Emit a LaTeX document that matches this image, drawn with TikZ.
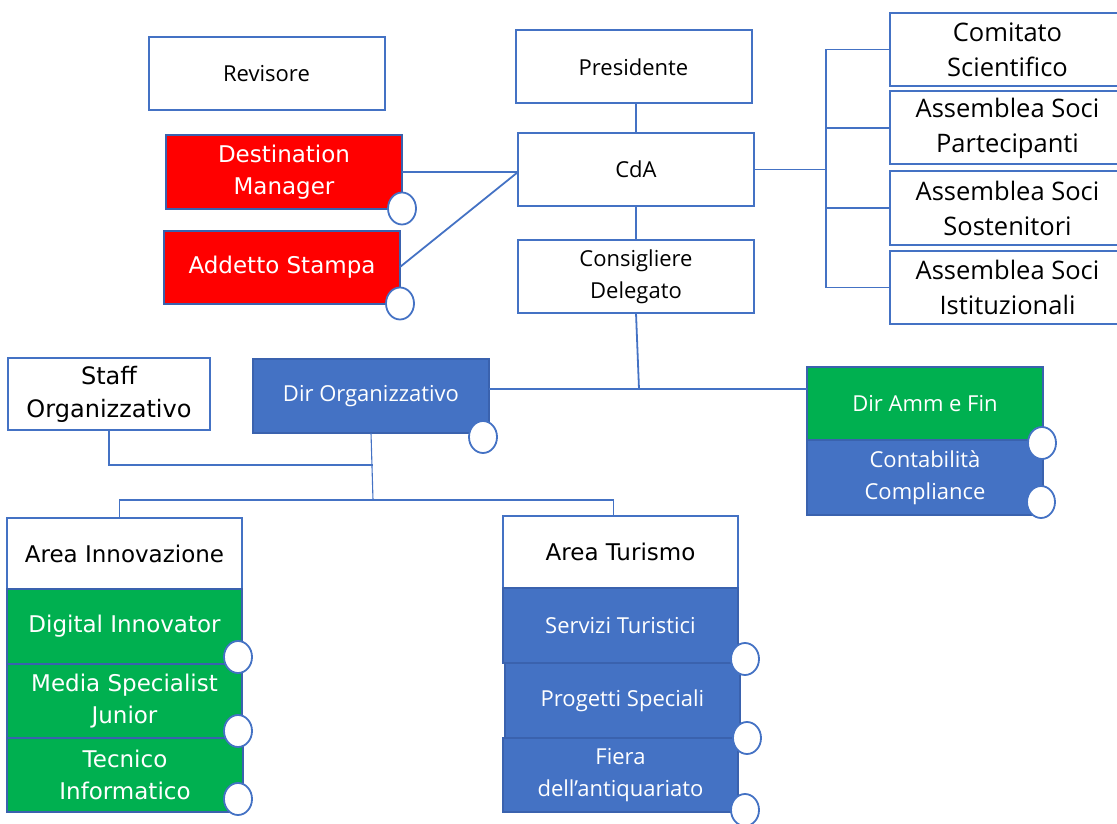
\documentclass[tikz,border=0pt]{standalone}
\usepackage{fontspec}
\setmainfont{Open Sans}
\newfontfamily\verdfont{DejaVu Sans}
\usepackage{xcolor}
\definecolor{oblue}{HTML}{4472C4}
\definecolor{ogreen}{HTML}{00B050}
\definecolor{ored}{HTML}{FF0000}
\definecolor{oedge}{HTML}{3A62AE}

\tikzset{
  orgbox/.style={draw=oblue, line width=2pt, fill=white, minimum width=236pt, minimum height=73pt,
    align=center, inner sep=2pt, outer sep=0pt, font=\fontsize{22}{32}\selectfont},
  verd/.style={font=\verdfont\fontsize{23}{32}\selectfont},
  redbox/.style={orgbox, verd, draw=oedge, fill=ored, text=white},
  greenbox/.style={orgbox, draw=oedge, fill=ogreen, text=white},
  bluebox/.style={orgbox, draw=oedge, fill=oblue, text=white},
  tondo/.style={draw=oblue, line width=1.8pt, fill=white},
  conn/.style={draw=oblue, line width=1.8pt},
  thinconn/.style={draw=oblue, line width=1.1pt}
}

\begin{document}
\begin{tikzpicture}[x=1pt, y=-1pt]
		\useasboundingbox (0,0) rectangle (1117,824);
		% vertice
		\node[orgbox] (rev)  at (266.5,73.5) {Revisore};
		\node[orgbox] (pres) at (633.5,67)   {Presidente};
		\node[orgbox] (cda)  at (636,169.5)  {CdA};
		\node[orgbox] (cons) at (636,276.5)  {Consigliere\\Delegato};
		\node[redbox] (dm)   at (284,172)    {Destination\\Manager};
		\node[redbox] (as)   at (282,267)    {Addetto Stampa};
		% assemblee
		\node[orgbox, minimum width=235pt, font=\fontsize{25.5}{35}\selectfont] (cs)  at (1007.5,49.5) {Comitato\\Scientifico};
		\node[orgbox, minimum width=235pt, font=\fontsize{25.5}{35}\selectfont] (asp) at (1007.5,128)  {Assemblea Soci\\Partecipanti};
		\node[orgbox, minimum width=235pt, font=\fontsize{25.5}{35}\selectfont] (ass) at (1007.5,208)  {Assemblea Soci\\Sostenitori};
		\node[orgbox, minimum width=235pt, font=\fontsize{25.5}{35}\selectfont] (asi) at (1007.5,287.5) {Assemblea Soci\\Istituzionali};
		% direzioni
		\node[orgbox, verd, minimum width=202pt, minimum height=72pt, font=\verdfont\fontsize{24}{33}\selectfont] (so) at (109,394) {Staff\\Organizzativo};
		\node[bluebox, minimum height=74pt] (dor) at (371,396)   {Dir Organizzativo};
		\node[greenbox] (dam) at (925,403.5) {Dir Amm e Fin};
		\node[bluebox, minimum height=75pt] (cc) at (925,477.5) {Contabilità\\Compliance};
		% area innovazione
		\node[orgbox, verd, minimum width=235pt, minimum height=71pt] (ai) at (124.5,553.5) {Area Innovazione};
		\node[greenbox, verd, minimum width=235pt, minimum height=75pt] (di) at (124.5,626.5) {Digital Innovator};
		\node[greenbox, verd, minimum width=235pt, minimum height=74pt] (ms) at (124.5,701)   {Media Specialist\\Junior};
		\node[greenbox, verd, minimum height=74pt] (ti) at (125,775) {Tecnico\\Informatico};
		% area turismo
		\node[orgbox, verd, minimum width=235pt, minimum height=72pt] (at) at (620.5,552) {Area Turismo};
		\node[bluebox, minimum width=235pt, minimum height=75pt] (st) at (620.5,625.5) {Servizi Turistici};
		\node[bluebox, minimum width=235pt, minimum height=75pt] (ps) at (622.5,700.5) {Progetti Speciali};
		\node[bluebox, minimum width=235pt, minimum height=74pt] (fa) at (620.5,775)   {Fiera\\dell’antiquariato};

		\coordinate (brk) at (826,0);
		\coordinate (hub) at (639,389);
		\coordinate (split) at (373,500);
		\coordinate (sj) at (373,465);

		% collegamenti
		\draw[conn] (cda.north) -- (cda.north |- pres.south);
		\draw[conn] (cda.south) -- (cons.north);
		\draw[conn] (dm.east) -- (dm.east -| cda.west);
		\draw[conn] (as.east) -- (dm.east -| cda.west);
		\draw[thinconn] (cda.east) -- (cda.east -| brk);
		\draw[conn] (cs.west) -| (brk |- asi.west) -- (asi.west);
		\draw[conn] (asp.west) -- (asp.west -| brk);
		\draw[conn] (ass.west) -- (ass.west -| brk);
		\draw[conn] (cons.south) -- (hub);
		\draw[conn] (dor.east |- hub) -- (dam.west |- hub);
		\draw[thinconn] (dor.south) -- (split);
		\draw[conn] (so.south) |- (sj);
		\draw[conn] ([xshift=-5pt]ai.north) |- (split) -| ([xshift=-7pt]at.north);

		% tondi
		\draw[tondo] (dm.south east) ellipse (14pt and 16pt);
		\draw[tondo] (as.south east) ellipse (14pt and 16pt);
		\draw[tondo] ([shift={(-6,4)}]dor.south east) ellipse (14pt and 16pt);
		\draw[tondo] ([shift={(-1,3)}]dam.south east) ellipse (14pt and 16pt);
		\draw[tondo] ([shift={(-2,-13)}]cc.south east) ellipse (14pt and 16pt);
		\draw[tondo] ([shift={(-4,-7)}]di.south east) ellipse (14pt and 16pt);
		\draw[tondo] ([shift={(-4,-7)}]ms.south east) ellipse (14pt and 16pt);
		\draw[tondo] ([shift={(-5,-13)}]ti.south east) ellipse (14pt and 16pt);
		\draw[tondo] ([shift={(7,-4)}]st.south east) ellipse (14pt and 16pt);
		\draw[tondo] ([shift={(7,0)}]ps.south east) ellipse (14pt and 16pt);
		\draw[tondo] ([shift={(7,-2)}]fa.south east) ellipse (14pt and 16pt);
\end{tikzpicture}
\end{document}
